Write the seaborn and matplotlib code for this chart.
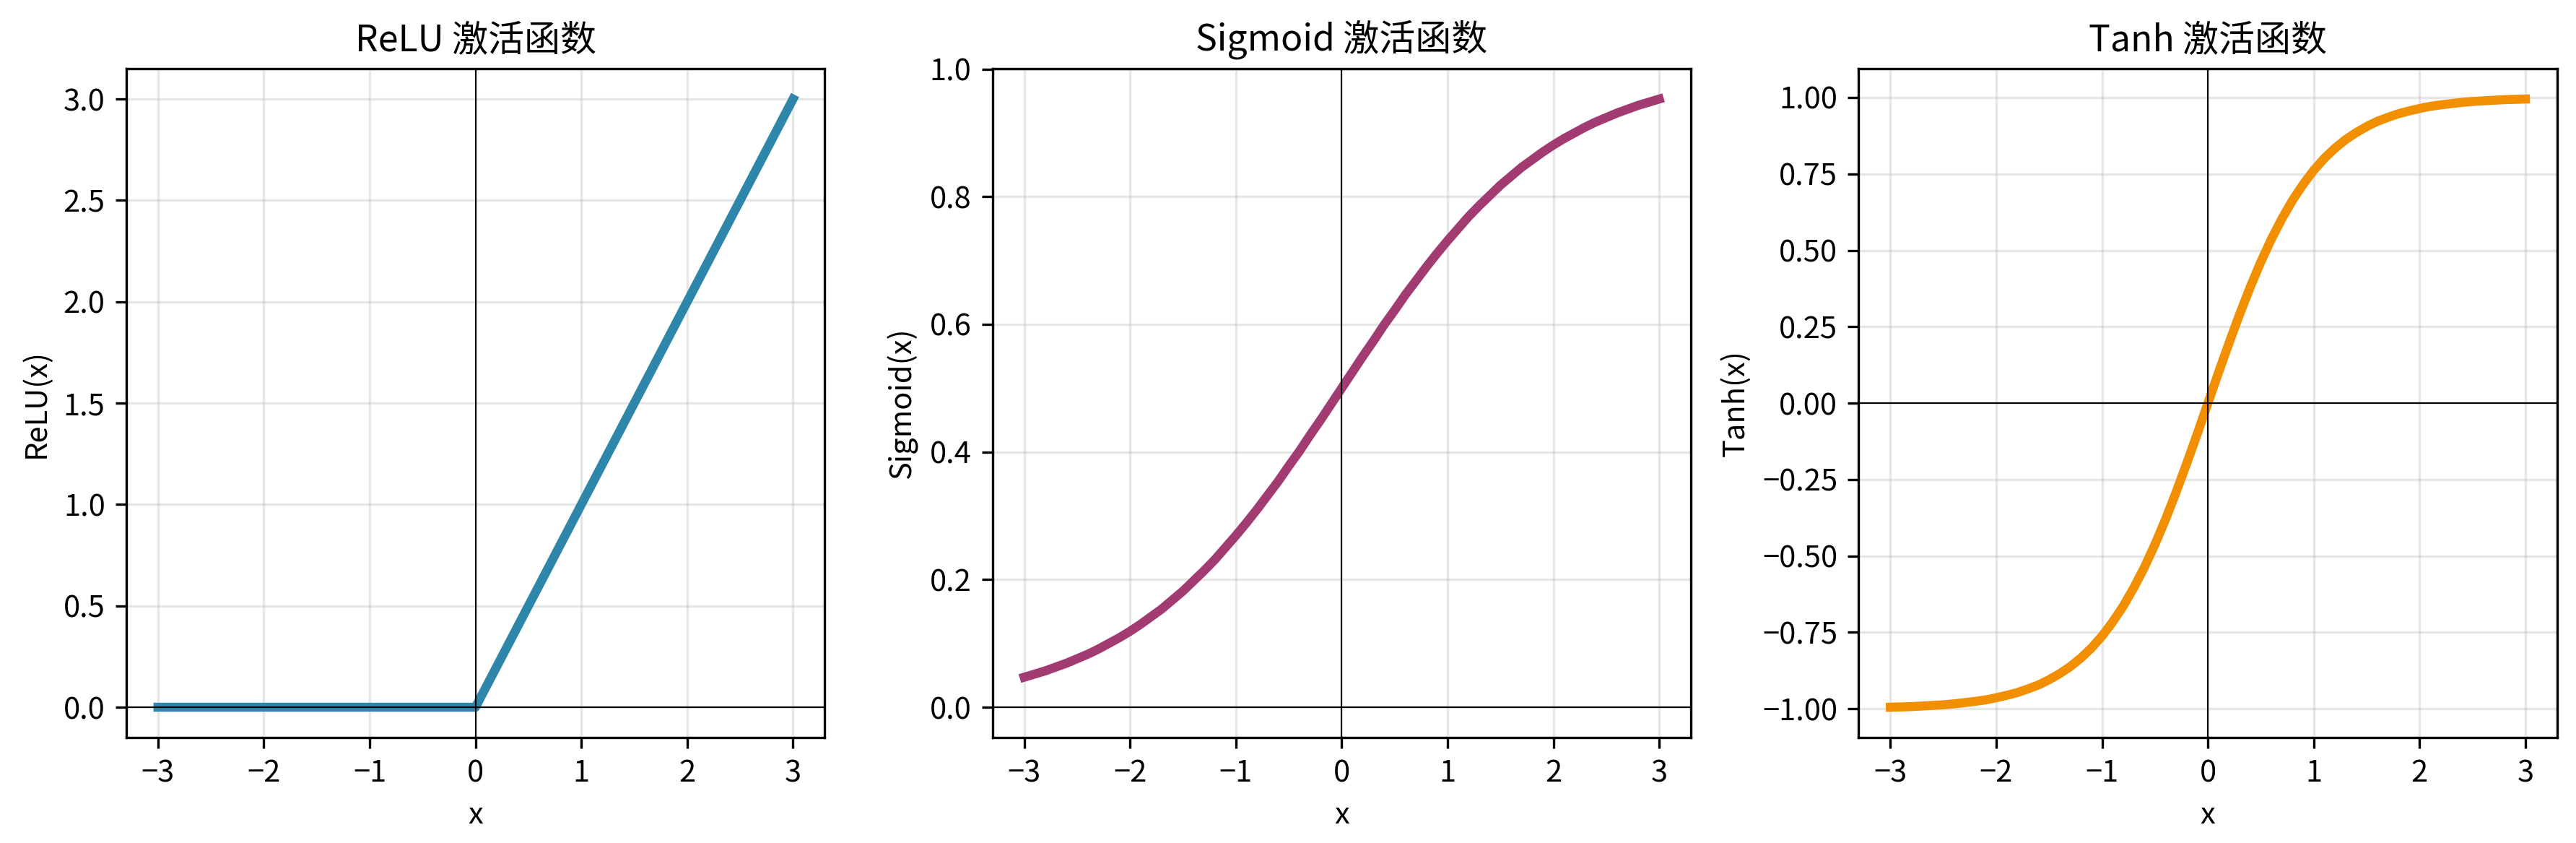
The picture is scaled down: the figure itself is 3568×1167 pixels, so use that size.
import matplotlib
matplotlib.use("Agg")
import matplotlib.pyplot as plt
import seaborn as sns
import pandas as pd

plt.rcParams['font.family'] = ['Noto Sans CJK SC', 'DejaVu Sans']
plt.rcParams['axes.unicode_minus'] = True

# Sample points (step 0.1)
x_vals = [-3.0, -2.9, -2.8, -2.7, -2.6, -2.5, -2.4, -2.3, -2.2, -2.1,
          -2.0, -1.9, -1.8, -1.7, -1.6, -1.5, -1.4, -1.3, -1.2, -1.1,
          -1.0, -0.9, -0.8, -0.7, -0.6, -0.5, -0.4, -0.3, -0.2, -0.1,
          0.0, 0.1, 0.2, 0.3, 0.4, 0.5, 0.6, 0.7, 0.8, 0.9,
          1.0, 1.1, 1.2, 1.3, 1.4, 1.5, 1.6, 1.7, 1.8, 1.9,
          2.0, 2.1, 2.2, 2.3, 2.4, 2.5, 2.6, 2.7, 2.8, 2.9, 3.0]
relu_vals = [0, 0, 0, 0, 0, 0, 0, 0, 0, 0,
             0, 0, 0, 0, 0, 0, 0, 0, 0, 0,
             0, 0, 0, 0, 0, 0, 0, 0, 0, 0,
             0.0, 0.1, 0.2, 0.3, 0.4, 0.5, 0.6, 0.7, 0.8, 0.9,
             1.0, 1.1, 1.2, 1.3, 1.4, 1.5, 1.6, 1.7, 1.8, 1.9,
             2.0, 2.1, 2.2, 2.3, 2.4, 2.5, 2.6, 2.7, 2.8, 2.9, 3.0]
sigmoid_vals = [0.047, 0.052, 0.057, 0.063, 0.069, 0.076, 0.083, 0.091, 0.100, 0.109,
                0.119, 0.130, 0.142, 0.154, 0.168, 0.182, 0.198, 0.214, 0.231, 0.250,
                0.269, 0.289, 0.310, 0.332, 0.354, 0.378, 0.401, 0.426, 0.450, 0.475,
                0.500, 0.525, 0.550, 0.574, 0.599, 0.622, 0.646, 0.668, 0.690, 0.711,
                0.731, 0.750, 0.769, 0.786, 0.802, 0.818, 0.832, 0.846, 0.858, 0.870,
                0.881, 0.891, 0.900, 0.909, 0.917, 0.924, 0.931, 0.937, 0.943, 0.948, 0.953]
tanh_vals = [-0.995, -0.994, -0.993, -0.991, -0.989, -0.987, -0.984, -0.980, -0.976, -0.971,
             -0.964, -0.956, -0.947, -0.935, -0.922, -0.905, -0.885, -0.862, -0.834, -0.801,
             -0.762, -0.716, -0.664, -0.604, -0.537, -0.462, -0.380, -0.291, -0.197, -0.100,
             0.000, 0.100, 0.197, 0.291, 0.380, 0.462, 0.537, 0.604, 0.664, 0.716,
             0.762, 0.801, 0.834, 0.862, 0.885, 0.905, 0.922, 0.935, 0.947, 0.956,
             0.964, 0.971, 0.976, 0.980, 0.984, 0.987, 0.989, 0.991, 0.993, 0.994, 0.995]

titles = ["ReLU 激活函数", "Sigmoid 激活函数", "Tanh 激活函数"]
ylabels = ["ReLU(x)", "Sigmoid(x)", "Tanh(x)"]
colors = ["#2E86AB", "#A23B72", "#F18F01"]
series = [relu_vals, sigmoid_vals, tanh_vals]

fig, axes = plt.subplots(1, 3, figsize=(3568 / 300, 1167 / 300), dpi=300)
fig.subplots_adjust(left=0.049, right=0.9927, top=0.9186, bottom=0.125, wspace=0.24)

for ax, ys, title, ylab, col in zip(axes, series, titles, ylabels, colors):
    df = pd.DataFrame({"x": x_vals, "y": ys})
    sns.lineplot(data=df, x="x", y="y", ax=ax, color=col, linewidth=3)
    ax.axhline(0, color="black", linewidth=0.5)
    ax.axvline(0, color="black", linewidth=0.5)
    ax.grid(True, alpha=0.3)
    ax.set_title(title, fontsize=12)
    ax.set_xlabel("x")
    ax.set_ylabel(ylab)

fig.savefig("out.png", dpi=300)
